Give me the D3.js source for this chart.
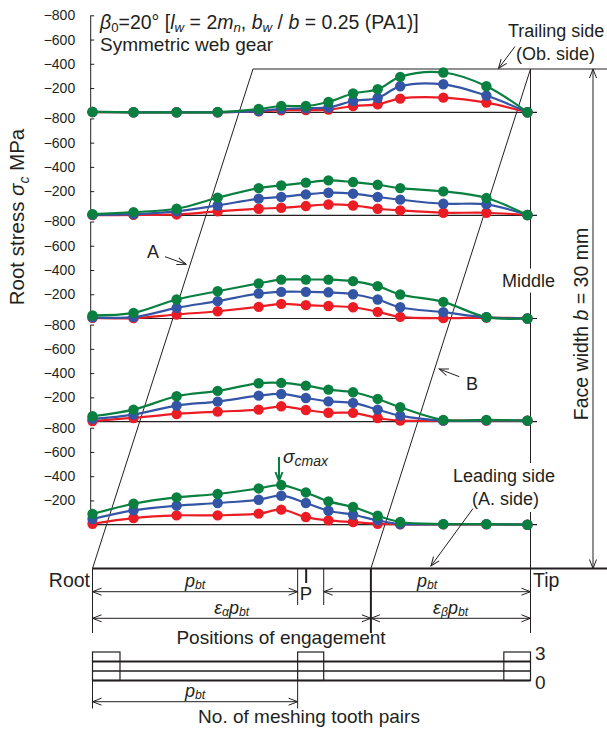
<!DOCTYPE html>
<html>
<head>
<meta charset="utf-8">
<script src="https://cdn.jsdelivr.net/npm/d3@7"></script>
<style>
  body { margin: 0; background: #fff; }
  svg { display: block; font-family: "Liberation Sans", Arial, Helvetica, sans-serif; }
</style>
</head>
<body>
<svg id="chart" width="607" height="733"></svg>
<script>
// Positions of engagement along the line of action, in units of p_bt (root = 0)
const positions = [0, 0.2, 0.41, 0.61, 0.81, 0.92, 1.04, 1.15, 1.27, 1.39, 1.5, 1.71, 1.92, 2.12];
const totalContact = 2.135;      // (εα + εβ)
const epsAlpha = 1.357;          // εα
const pitchPoint = 1.045;        // P
const pitchZone = [1.0, 1.127];

// Face-width sections, from trailing side (top) to leading side (bottom)
const sections = ["Trailing side", "", "Middle", "", "Leading side"];

// Root stress σc [MPa] at each position, one row per section
const stressRed = [
  [-2, 0, 0, 0, -8, -17, -18, -22, -52, -66, -113, -121, -80, 0],
  [-2, -4, -8, -33, -55, -63, -77, -90, -82, -55, -41, -22, -22, -3],
  [-5, -3, -33, -60, -96, -121, -110, -103, -93, -55, -13, -3, -8, 0],
  [-5, -30, -63, -82, -99, -126, -96, -73, -72, -30, -8, -8, -8, -8],
  [-8, -55, -77, -77, -91, -124, -63, -36, -22, -8, -3, -3, -3, 0]
];
const stressBlue = [
  [-3, 0, 0, 0, -11, -27, -33, -40, -93, -118, -215, -231, -138, 0],
  [-5, -10, -33, -82, -138, -152, -173, -187, -179, -152, -130, -96, -91, -3],
  [-10, -11, -88, -143, -206, -220, -220, -216, -200, -157, -93, -52, -10, 0],
  [-22, -58, -132, -165, -214, -228, -195, -167, -154, -99, -49, -8, -10, -8],
  [-47, -118, -157, -179, -206, -239, -179, -115, -82, -36, -5, -5, -5, 0]
];
const stressGreen = [
  [-3, 0, 0, -2, -27, -52, -52, -85, -155, -190, -292, -328, -215, 0],
  [-10, -27, -55, -146, -225, -247, -270, -289, -275, -253, -225, -198, -143, -3],
  [-25, -46, -157, -225, -289, -321, -321, -321, -308, -267, -198, -137, -11, 0],
  [-44, -99, -209, -253, -316, -319, -297, -264, -242, -187, -118, -14, -14, -8],
  [-88, -173, -225, -253, -299, -327, -266, -192, -146, -74, -22, -5, -5, 0]
];
const stressTicks = [-800, -600, -400, -200];

// Number of meshing tooth pairs along the contact length
const meshBreaks = [0, 0.134, 1.0, 1.127, 2.005, 2.135];
const meshPairs = [3, 2, 3, 2, 3];

const colors = { red: "#ec1c24", blue: "#3455a6", green: "#0a8040" };
const ink = "#231f20";

const svg = d3.select("#chart");

// arrowheads
const defs = svg.append("defs");
function arrowMarker(id, color, w) {
  defs.append("marker")
    .attr("id", id).attr("viewBox", "-11 -6 12 12")
    .attr("refX", 0).attr("refY", 0)
    .attr("markerWidth", 12).attr("markerHeight", 12)
    .attr("markerUnits", "userSpaceOnUse")
    .attr("orient", "auto-start-reverse")
    .append("path").attr("d", "M-9,-3.5L0,0L-9,3.5")
    .attr("fill", "none").attr("stroke", color).attr("stroke-width", w);
}
arrowMarker("arr", ink, 1);
arrowMarker("arrG", colors.green, 2);

const x = d3.scaleLinear().domain([0, totalContact]).range([92.5, 530.5]);
const axisX = 90.2;
const panelBase = i => 112.3 + i * 103.1;
const panelY = i => d3.scaleLinear().domain([0, -800]).range([panelBase(i), panelBase(i) - 97]);

const topY = 69, bottomY = 568.5;
const slantTop = x.invert(253);   // line A meets the top edge here

function line(x1, y1, x2, y2, w = 1, color = ink) {
  return svg.append("line").attr("x1", x1).attr("y1", y1).attr("x2", x2).attr("y2", y2)
    .attr("stroke", color).attr("stroke-width", w);
}
function arrow(x1, y1, x2, y2, both = false, marker = "arr", w = 1, color = ink) {
  const l = line(x1, y1, x2, y2, w, color).attr("marker-end", `url(#${marker})`);
  if (both) l.attr("marker-start", `url(#${marker})`);
  return l;
}
// text with italic / subscript segments: parts = [[text, flags]] where flags may hold "i" and "s"
function rich(sel, parts, size, shift = 0.24) {
  let shifted = 0;
  parts.forEach(([t, f = ""]) => {
    const sub = f.includes("s");
    const want = sub ? size * shift : 0;
    const ts = sel.append("tspan").text(t).attr("dy", want - shifted);
    shifted = want;
    if (f.includes("i")) ts.attr("font-style", "italic");
    if (sub) ts.attr("font-size", size * 0.68);
  });
  return sel;
}
function label(tx, ty, size, anchor = "start") {
  return svg.append("text").attr("x", tx).attr("y", ty).attr("font-size", size)
    .attr("fill", ink).attr("text-anchor", anchor);
}

// ---- contact-zone outline: top edge, slanted lines A and B, tip line, bottom edge
line(x(slantTop), topY, 607, topY, 1);
line(x(0), bottomY, x(slantTop), topY, 1);
line(x(epsAlpha), bottomY, x(totalContact), topY, 1);
line(x(totalContact), topY, x(totalContact), 633, 1);
line(x(0), bottomY, 607, bottomY, 2.2);

// face width dimension
arrow(593, topY, 593, bottomY, true);

// ---- stress panels
const curve = d3.curveCatmullRom.alpha(0.5);
sections.forEach((name, i) => {
  const y = panelY(i);
  const g = svg.append("g");
  const ax = g.append("g").attr("transform", `translate(${axisX},0)`)
    .call(d3.axisLeft(y).tickValues(stressTicks).tickSize(-4).tickSizeOuter(0)
      .tickPadding(15).tickFormat(d3.format("d")));
  ax.selectAll("path, line").attr("stroke", ink).attr("stroke-width", 1);
  ax.selectAll("text").attr("font-size", 14).attr("fill", ink)
    .attr("font-family", "'Liberation Sans', Arial, sans-serif");
  g.append("line").attr("x1", axisX + 0.5).attr("x2", 537)
    .attr("y1", y(0)).attr("y2", y(0)).attr("stroke", ink).attr("stroke-width", 1.2);

  [[stressRed, colors.red], [stressBlue, colors.blue], [stressGreen, colors.green]].forEach(([set, col]) => {
    const vals = set[i];
    g.append("path").datum(vals)
      .attr("d", d3.line().x((d, j) => x(positions[j])).y(d => y(d)).curve(curve))
      .attr("fill", "none").attr("stroke", col).attr("stroke-width", 2.2);
    g.selectAll(null).data(vals).join("circle")
      .attr("cx", (d, j) => x(positions[j])).attr("cy", d => y(d))
      .attr("r", 5.2).attr("fill", col);
  });
});

// ---- header text
rich(label(100, 28.5, 19.5), [["β", "i"], ["0", "s"], ["=20°  ["], ["l", "i"], ["w", "is"], [" = 2"], ["m", "i"], ["n", "is"],
  [", "], ["b", "i"], ["w", "is"], [" / "], ["b", "i"], [" = 0.25 (PA1)]"]], 19.5, 0.2);
label(100, 51, 19).text("Symmetric web gear");

// y axis title
rich(svg.append("text").attr("transform", "translate(24,217) rotate(-90)")
  .attr("text-anchor", "middle").attr("font-size", 20.5).attr("fill", ink),
  [["Root stress  "], ["σ", "i"], ["c", "is"], [" MPa"]], 20.5);

// face width title
rich(svg.append("text").attr("transform", "translate(588,324) rotate(-90)")
  .attr("text-anchor", "middle").attr("font-size", 19.5).attr("fill", ink),
  [["Face width "], ["b", "i"], [" = 30 mm"]], 19.5);

// labels sitting on the tip line get a white backing
function backed(t, pad = 2) {
  const b = t.node().getBBox();
  svg.insert("rect", () => t.node()).attr("x", b.x - pad).attr("y", b.y - pad)
    .attr("width", b.width + 2 * pad).attr("height", b.height + 2 * pad).attr("fill", "#fff");
  return t;
}
label(508, 37.3, 18).text("Trailing side");
label(516, 59.5, 18).text("(Ob. side)");
arrow(515, 46.5, 498.5, 68.5);

backed(label(502, 286.5, 18).text("Middle"));
const lead1 = label(453, 482, 18).text("Leading side");
const lead2 = label(472, 505, 18).text("(A. side)");
backed(lead1, 3); backed(lead2, 3);
arrow(473, 508.5, 431, 566);

label(147, 258, 18).text("A");
arrow(165, 256.7, 186, 264.3);
label(466, 390, 18).text("B");
arrow(459.3, 376.7, 439.3, 369);

// σcmax marker
arrow(279, 457, 279, 481, false, "arrG", 2, colors.green);
rich(label(283, 463, 19), [["σ", "i"], ["cmax", "is"]], 19, 0.16).selectAll("tspan").filter((d, k) => k === 1).attr("font-size", 14);

// ---- engagement dimensions below the contact zone
label(90, 587, 19.5, "end").text("Root");
label(533, 587, 19.5).text("Tip");
line(x(0), bottomY, x(0), 633, 1);
line(x(epsAlpha), bottomY, x(epsAlpha), 633, 2);
line(x(pitchZone[0]), bottomY, x(pitchZone[0]), 605, 1);
line(x(pitchZone[1]), bottomY, x(pitchZone[1]), 605, 1);
line(x(pitchPoint) - 0.7, bottomY, x(pitchPoint) - 0.7, 583, 2);
label(x(pitchPoint) - 1, 600, 18.5, "middle").text("P");

arrow(x(0), 591.7, x(pitchZone[0]), 591.7, true);
arrow(x(pitchZone[1]), 591.7, x(totalContact), 591.7, true);
rich(label((x(0) + x(pitchZone[0])) / 2, 586.5, 18, "middle"), [["p", "i"], ["bt", "is"]], 18, 0.15);
rich(label((x(pitchZone[1]) + x(totalContact)) / 2, 586.5, 18, "middle"), [["p", "i"], ["bt", "is"]], 18, 0.15);

arrow(x(0), 618.3, x(epsAlpha), 618.3, true);
arrow(x(epsAlpha), 618.3, x(totalContact), 618.3, true);
rich(label((x(0) + x(epsAlpha)) / 2, 613.5, 18, "middle"), [["ε", "i"], ["α", "is"], ["p", "i"], ["bt", "is"]], 18, 0.15);
rich(label((x(epsAlpha) + x(totalContact)) / 2, 613.5, 18, "middle"), [["ε", "i"], ["β", "is"], ["p", "i"], ["bt", "is"]], 18, 0.15);

label(281, 644, 19, "middle").text("Positions of engagement");

// ---- number of meshing tooth pairs
const m = d3.scaleLinear().domain([0, 3]).range([680.5, 652]);
line(x(0), m(1), x(totalContact), m(1), 1.3);
line(x(0), m(2), x(totalContact), m(2), 2);
line(x(0), m(0), x(totalContact), m(0), 2);
meshPairs.forEach((n, k) => {
  if (n < 3) return;
  svg.append("rect").attr("x", x(meshBreaks[k])).attr("y", m(3))
    .attr("width", x(meshBreaks[k + 1]) - x(meshBreaks[k])).attr("height", m(0) - m(3))
    .attr("fill", "none").attr("stroke", ink).attr("stroke-width", 1.2);
});
label(535, 659.5, 19).text("3");
label(535, 688.5, 19).text("0");
line(x(0), m(0), x(0), 708.5, 1);
line(x(1), m(0), x(1), 708.5, 1);
arrow(x(0), 701.7, x(1), 701.7, true);
rich(label((x(0) + x(1)) / 2, 696.5, 18, "middle"), [["p", "i"], ["bt", "is"]], 18, 0.15);
label(309, 722.5, 19, "middle").text("No. of meshing tooth pairs");
</script>
</body>
</html>
